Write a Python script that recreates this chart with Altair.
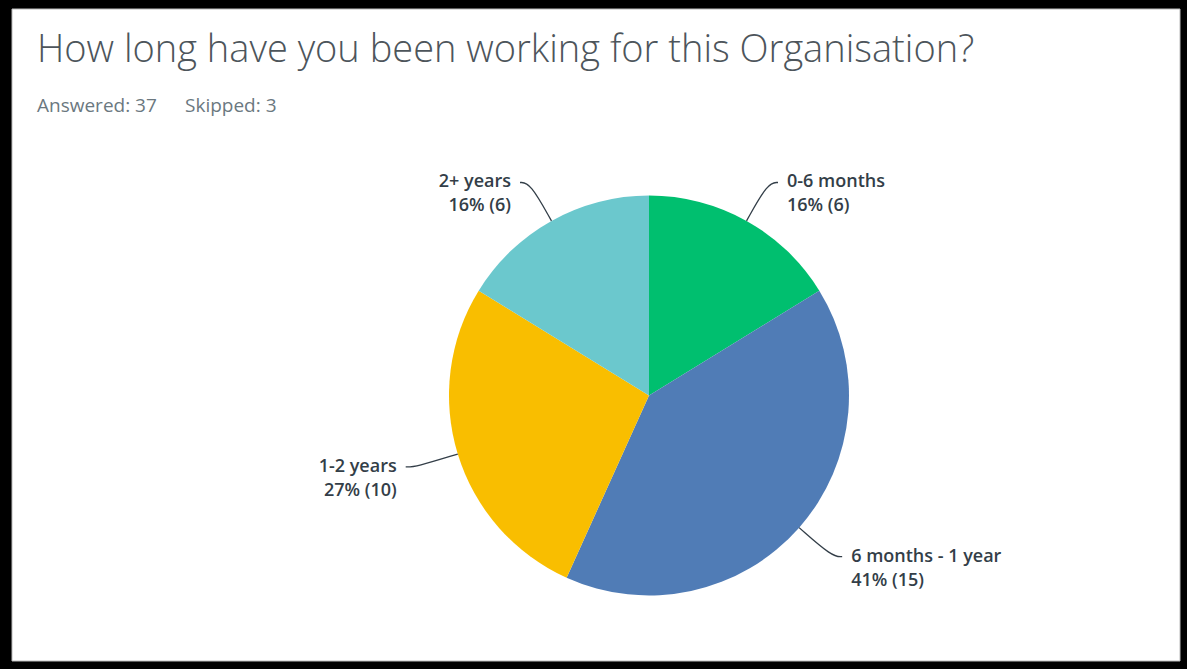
import altair as alt
import numpy as np
import pandas as pd

# ---- data ----
categories = ["0-6 months", "6 months - 1 year", "1-2 years", "2+ years"]
counts = [6, 15, 10, 6]
percent_labels = ["16% (6)", "41% (15)", "27% (10)", "16% (6)"]
colors = ["#00bf6f", "#507cb6", "#f9be00", "#6bc8cd"]

title_text = "How long have you been working for this Organisation?"
answered_text = "Answered: 37"
skipped_text = "Skipped: 3"

W, H = 1187, 669
CX, CY, R = 649, 395.5, 200

pie_df = pd.DataFrame({"category": categories, "count": counts,
                       "pct": percent_labels, "order": range(len(categories))})

# leader lines and label anchors derived from the values
total = sum(counts)
cum = np.cumsum(counts)
start = cum - np.array(counts)
mid = (start + np.array(counts) / 2) / total * 2 * np.pi
rows, lab = [], []
for c, p, a in zip(categories, percent_labels, mid):
    s, co = np.sin(a), np.cos(a)
    side = 1 if s >= 0 else -1
    ex, ey = s * 1.0, co * 1.0
    bx, by = s * 1.22, co * 1.22
    tx, ty = bx + side * 0.05, by
    rows += [{"category": c, "i": 0, "x": ex, "y": ey},
             {"category": c, "i": 1, "x": bx, "y": by},
             {"category": c, "i": 2, "x": tx, "y": ty}]
    lab.append({"category": c, "pct": p, "x": tx + side * 0.045, "y": ty,
                "side": "left" if side > 0 else "right"})
line_df = pd.DataFrame(rows)
lab_df = pd.DataFrame(lab)

xs = alt.Scale(domain=[-1, 1], range=[CX - R, CX + R])
ys = alt.Scale(domain=[-1, 1], range=[CY + R, CY - R])

frame = alt.Chart(pd.DataFrame({"a": [0]})).mark_rect(
    fill="white", stroke="#bbbbbb", strokeWidth=1
).encode(x=alt.value(12), x2=alt.value(1180), y=alt.value(9), y2=alt.value(661))

pie = alt.Chart(pie_df).mark_arc(stroke="white", strokeWidth=0).encode(
    theta=alt.Theta("count:Q", stack=True),
    order=alt.Order("order:Q"),
    color=alt.Color("category:N", scale=alt.Scale(domain=categories, range=colors), legend=None),
    x=alt.value(CX), y=alt.value(CY), radius=alt.value(R),
)

leaders = alt.Chart(line_df).mark_line(color="#333e48", strokeWidth=1.3, interpolate="basis").encode(
    x=alt.X("x:Q", scale=xs, axis=None),
    y=alt.Y("y:Q", scale=ys, axis=None),
    detail="category:N",
    order="i:Q",
)

label_font = "Open Sans"
lab_style = dict(baseline="middle", font=label_font, fontSize=18, fontWeight=600, color="#333e48")


def label_layer(side, align, field, dy):
    return alt.Chart(lab_df[lab_df.side == side]).mark_text(align=align, dy=dy, **lab_style).encode(
        x=alt.X("x:Q", scale=xs, axis=None), y=alt.Y("y:Q", scale=ys, axis=None), text=f"{field}:N")


name_l = label_layer("left", "left", "category", 0)
pct_l = label_layer("left", "left", "pct", 24)
name_r = label_layer("right", "right", "category", 0)
pct_r = label_layer("right", "right", "pct", 24)

title = alt.Chart(pd.DataFrame({"t": [title_text]})).mark_text(
    align="left", baseline="alphabetic", font="Open Sans", fontSize=38, fontWeight=300, color="#4d555b"
).encode(x=alt.value(37), y=alt.value(62), text="t:N")
answered = alt.Chart(pd.DataFrame({"t": [answered_text]})).mark_text(
    align="left", baseline="alphabetic", font="Open Sans", fontSize=19, color="#6b787f"
).encode(x=alt.value(37), y=alt.value(112), text="t:N")
skipped = alt.Chart(pd.DataFrame({"t": [skipped_text]})).mark_text(
    align="left", baseline="alphabetic", font="Open Sans", fontSize=19, color="#6b787f"
).encode(x=alt.value(185), y=alt.value(112), text="t:N")

chart = alt.layer(frame, pie, leaders, name_l, pct_l, name_r, pct_r, title, answered, skipped).properties(
    width=W, height=H, background="black", padding=0,
    autosize=alt.AutoSizeParams(type="none"),
).configure_view(stroke=None)

chart.save("out.html", embed_options={"renderer": "svg", "actions": False})
